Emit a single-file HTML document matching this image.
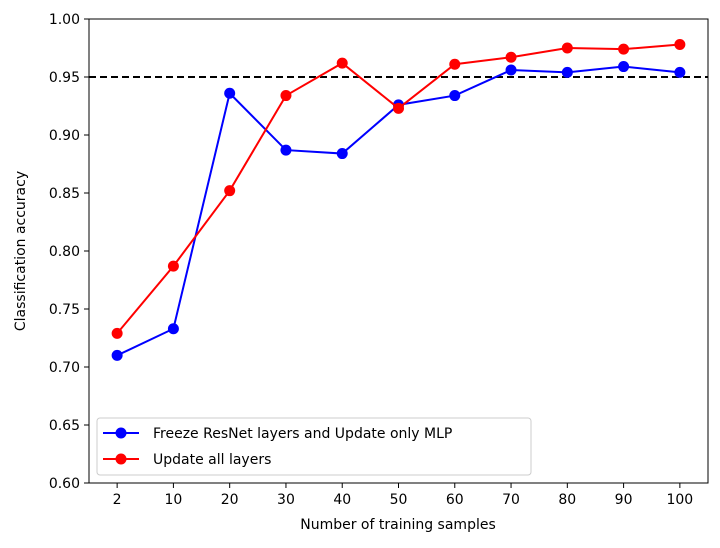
<!DOCTYPE html>
<html><head><meta charset="utf-8"><style>
body{margin:0;background:#fff;}
svg{display:block;font-family:"DejaVu Sans","Liberation Sans",sans-serif;}
</style></head><body>
<svg id="chart" width="720" height="548" viewBox="0 0 720 548">
<g id="grid"></g>
<g id="series"></g>
<rect x="89" y="19" width="619" height="464" fill="none" stroke="#000" stroke-width="1"/>
<text x="20" y="251" transform="rotate(-90 20 251)" text-anchor="middle" font-size="14" fill="#000" dy="5">Classification accuracy</text>
<text x="398" y="529" text-anchor="middle" font-size="14" fill="#000">Number of training samples</text>
<g>
<rect x="97" y="418" width="434" height="57" rx="3" fill="#fff" stroke="#ccc"/>
<line x1="103" y1="433" x2="139" y2="433" stroke="#0000ff" stroke-width="2"/>
<circle cx="121" cy="433" r="5.5" fill="#0000ff"/>
<text x="153" y="438" font-size="14">Freeze ResNet layers and Update only MLP</text>
<line x1="103" y1="459" x2="139" y2="459" stroke="#ff0000" stroke-width="2"/>
<circle cx="121" cy="459" r="5.5" fill="#ff0000"/>
<text x="153" y="464" font-size="14">Update all layers</text>
</g>
</svg>
<script>
const categories = ["2","10","20","30","40","50","60","70","80","90","100"];
const freezeValues = [0.710,0.733,0.936,0.887,0.884,0.926,0.934,0.956,0.954,0.959,0.954];
const allValues = [0.729,0.787,0.852,0.934,0.962,0.923,0.961,0.967,0.975,0.974,0.978];
const yTicks = [0.60,0.65,0.70,0.75,0.80,0.85,0.90,0.95,1.00];
const threshold = 0.95;

const NS="http://www.w3.org/2000/svg";
const L=89,R=708,T=19,B=483,yMin=0.6,yMax=1.0;
const step=(R-L)/categories.length;
function xPos(i){return L+step*(i+0.5);}
function yPos(v){return B-(v-yMin)/(yMax-yMin)*(B-T);}
function mk(tag,attrs,parent){const e=document.createElementNS(NS,tag);for(const k in attrs)e.setAttribute(k,attrs[k]);parent.appendChild(e);return e;}
const grid=document.getElementById('grid'),ser=document.getElementById('series');
yTicks.forEach(v=>{
  const y=yPos(v);
  const t=mk('line',{x1:L-5,x2:L,y1:y,y2:y,stroke:'#000'},grid);
  
  
  const tx=mk('text',{x:L-9,y:y+5,'text-anchor':'end','font-size':14},grid);
  tx.textContent=v.toFixed(2);
  
  
});
categories.forEach((c,i)=>{
  const x=xPos(i);
  const t=mk('line',{x1:x,x2:x,y1:B,y2:B+5,stroke:'#000'},grid);
  
  
  const tx=mk('text',{x:x,y:B+21,'text-anchor':'middle','font-size':14},grid);
  tx.textContent=c;
  
  
});
const th=mk('line',{x1:L,x2:R,y1:yPos(threshold),y2:yPos(threshold),stroke:'#000','stroke-width':2,'stroke-dasharray':'7,4'},ser);


function drawSeries(vals,color,name){
  const pl=mk('polyline',{points:vals.map((v,i)=>xPos(i)+','+yPos(v)).join(' '),fill:'none',stroke:color,'stroke-width':2},ser);
  
  
  vals.forEach((v,i)=>{
    const c=mk('circle',{cx:xPos(i),cy:yPos(v),r:5.5,fill:color},ser);
    
    
  });
}
drawSeries(freezeValues,'#0000ff','freeze');
drawSeries(allValues,'#ff0000','update-all');
</script>
</body></html>
